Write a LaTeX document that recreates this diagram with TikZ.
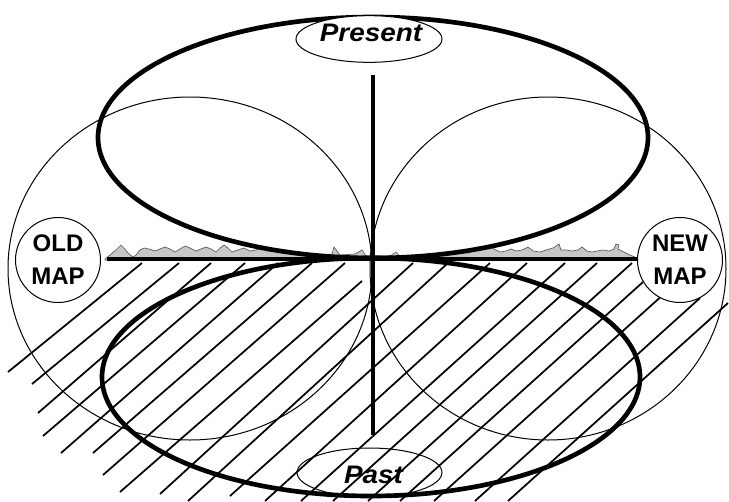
\documentclass[tikz,border=0pt]{standalone}
\usepackage{fontspec}
\setmainfont{Liberation Sans}
\usetikzlibrary{shapes.geometric}
\definecolor{bandfill}{gray}{0.78}
\definecolor{bandline}{gray}{0.35}
\begin{document}
\begin{tikzpicture}[x=0.75pt,y=-0.75pt,
  bigring/.style={line width=3.5pt},
  thinring/.style={line width=0.75pt},
  hatch/.style={line width=1.3pt},
  axisline/.style={line width=3.2pt},
  mapcircle/.style={circle, draw, line width=0.75pt, fill=white, minimum size=63.75pt, inner sep=0pt, align=center, font=\fontsize{18}{24.75}\selectfont\bfseries},
  lblell/.style={ellipse, draw, line width=0.75pt, inner sep=0pt},
  lbltxt/.style={font=\fontsize{19}{22}\selectfont\bfseries\itshape, inner sep=0pt}]
\useasboundingbox (0,0) rectangle (729,501);

% hatching
\foreach \a/\b/\c/\d in {
  142/263/8/372, 179/263/32/384, 211/263/38/413, 245/263/43/436,
  278/263/61/453, 312/263/93/453, 345/263/103/475, 362/281/120/492,
  413/263/160/494, 448/263/188/501, 490/263/230/496, 527/263/265/501,
  565/263/301/501, 597/263/333/501, 632/263/368/501, 643/282/400/501,
  665/293/434/501, 700/298/475/501, 728/303/508/501}
  \draw[hatch] (\a,\b) -- (\c,\d);

% thin circles
\draw[thinring] (190,268.5) ellipse [x radius=182, y radius=171.5];
\draw[thinring] (548,268.5) ellipse [x radius=178, y radius=171.5];

% grey band above the horizon
\filldraw[fill=bandfill, draw=bandline, line width=0.5pt]
  (105,259) -- (110,255) -- (116,250) -- (121,245) -- (124,248) -- (128,253) -- (133,257) -- (136,255)
  -- (140,250) -- (144,248) -- (149,249) -- (155,251) -- (160,249) -- (165,247) -- (170,249) -- (175,252)
  -- (180,249) -- (185,246) -- (190,248) -- (196,251) -- (201,249) -- (206,247) -- (211,249) -- (216,252)
  -- (220,248) -- (224,245) -- (228,248) -- (232,252) -- (238,250) -- (244,248) -- (250,251) -- (256,250)
  -- (262,248) -- (268,251) -- (275,250) -- (282,252) -- (290,251) -- (300,253) -- (320,255) -- (332,254)
  -- (334,247) -- (340,255) -- (355,254) -- (362,250) -- (366,256) -- (390,256) -- (396,252) -- (400,256)
  -- (430,255) -- (450,252) -- (460,251) -- (468,253) -- (476,250) -- (484,248) -- (490,245) -- (494,249)
  -- (500,252) -- (506,251) -- (511,249) -- (516,251) -- (522,250) -- (528,247) -- (533,251) -- (540,252)
  -- (546,250) -- (553,248) -- (559,244) -- (561,250) -- (566,250) -- (572,251) -- (578,250) -- (582,247)
  -- (587,251) -- (592,252) -- (597,251) -- (603,250) -- (609,251) -- (614,249) -- (616,244) -- (619,245)
  -- (618,249) -- (624,252) -- (630,255) -- (637,258) -- (637,260) -- (105,260) -- cycle;

% horizon and axis
\coordinate (hl) at (107,259);
\coordinate (hr) at (637,259);
\coordinate (vt) at (373,75);
\coordinate (vb) at (373,435);
\draw[axisline] (hl) -- (hr);
\draw[axisline] (vt) -- (vb);

% big ellipses
\draw[bigring] (373,137.5) ellipse [x radius=275, y radius=120.5];
\draw[bigring] (371,377) ellipse [x radius=269, y radius=119];

% labels
\node[lblell, fill=white, minimum width=109.5pt, minimum height=35pt] (presE) at (369,39) {};
\node[lbltxt, anchor=base] (pres) at (371,41) {\scalebox{1.1}[1]{Present}};
\node[lblell, minimum width=108.75pt, minimum height=36.75pt] (pastE) at (369.5,472.5) {};
\node[lbltxt, anchor=base] (past) at (373.5,483) {\scalebox{1.1}[1]{Past}};

\node[mapcircle] (old) at (58,260) {OLD\\MAP};
\node[mapcircle] (new) at (680,260) {NEW\\MAP};
\end{tikzpicture}
\end{document}
